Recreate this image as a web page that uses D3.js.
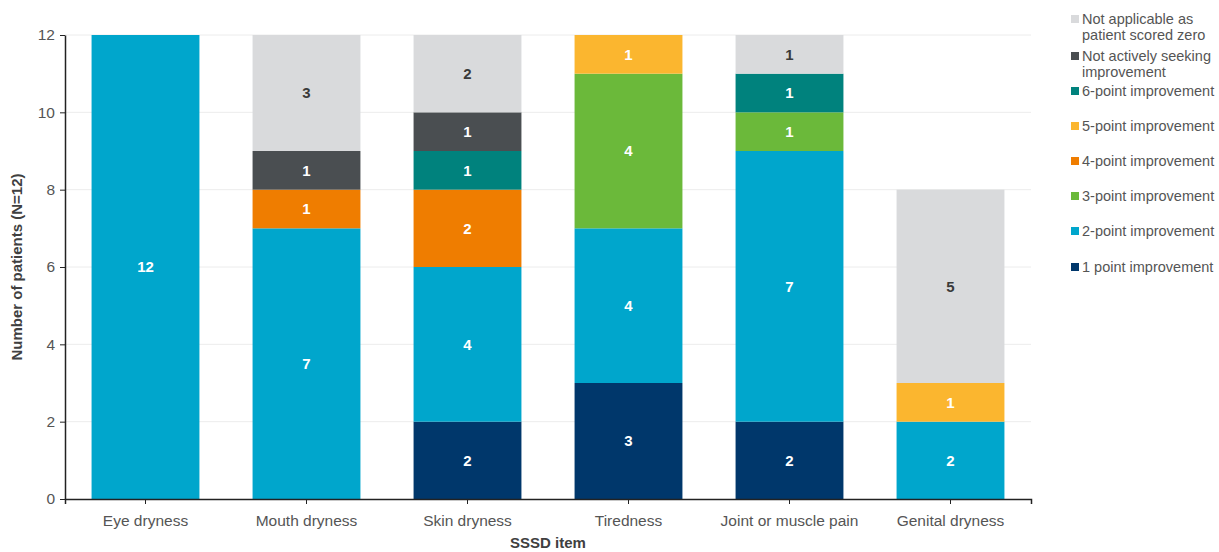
<!DOCTYPE html>
<html>
<head>
<meta charset="utf-8">
<script src="https://cdn.jsdelivr.net/npm/d3@7"></script>
<style>
	body { margin: 0; background: #fff; }
	text { font-family: "Liberation Sans", Arial, sans-serif; }
</style>
</head>
<body>
<div id="chart"></div>
<script>

///////////////////////////////////////////////////////////////////////

let categories = [ "Eye dryness", "Mouth dryness", "Skin dryness", "Tiredness", "Joint or muscle pain", "Genital dryness" ];

// stack order, bottom to top
let series_keys = [ "p1", "p2", "p3", "p4", "p5", "p6", "seek", "na" ];

let series_names = [
	"1 point improvement",
	"2-point improvement",
	"3-point improvement",
	"4-point improvement",
	"5-point improvement",
	"6-point improvement",
	"Not actively seeking improvement",
	"Not applicable as patient scored zero"
];

let series_colors = [ "#00376b", "#00a6cc", "#6bb93a", "#ef7d00", "#fbb62f", "#00827d", "#4a4e51", "#d9dadc" ];

let p1   = [ 0, 0, 2, 3, 2, 0 ];
let p2   = [ 12, 7, 4, 4, 7, 2 ];
let p3   = [ 0, 0, 0, 4, 1, 0 ];
let p4   = [ 0, 1, 2, 0, 0, 0 ];
let p5   = [ 0, 0, 0, 1, 0, 1 ];
let p6   = [ 0, 0, 1, 0, 1, 0 ];
let seek = [ 0, 1, 1, 0, 0, 0 ];
let na   = [ 0, 3, 2, 0, 1, 5 ];

let y_ticks = [ 0, 2, 4, 6, 8, 10, 12 ];

///////////////////////////////////////////////////////////////////////

let width = 1219, height = 552;
let margin = { left: 65, right: 188, top: 35, bottom: 53 };

let values = { p1, p2, p3, p4, p5, p6, seek, na };

let table = categories.map( ( c, i ) => {
	let row = { cat: c };
	series_keys.forEach( k => row[ k ] = values[ k ][ i ] );
	return row;
} );

let svg = d3.select( "#chart" )
	.append( "svg" )
		.attr( "width", width )
		.attr( "height", height );

let x = d3.scaleBand()
	.domain( categories )
	.range( [ margin.left, width - margin.right ] )
	.paddingInner( 0.33 )
	.paddingOuter( 0.165 );

let y = d3.scaleLinear()
	.domain( [ 0, 12 ] )
	.range( [ height - margin.bottom, margin.top ] );

// grid
svg.append( "g" )
	.selectAll( "line" )
	.data( y_ticks.slice( 1 ) )
	.join( "line" )
		.attr( "x1", margin.left )
		.attr( "x2", width - margin.right )
		.attr( "y1", d => y( d ) )
		.attr( "y2", d => y( d ) )
		.attr( "stroke", "#ececec" )
		.attr( "stroke-width", 1 );

let stack = d3.stack().keys( series_keys )( table );

let layers = svg.append( "g" )
	.selectAll( "g" )
	.data( stack )
	.join( "g" )
		.attr( "fill", ( d, i ) => series_colors[ i ] );

layers.selectAll( "rect" )
	.data( d => d.filter( s => s[ 1 ] > s[ 0 ] ) )
	.join( "rect" )
		.attr( "x", d => x( d.data.cat ) )
		.attr( "width", x.bandwidth() )
		.attr( "y", d => y( d[ 1 ] ) )
		.attr( "height", d => y( d[ 0 ] ) - y( d[ 1 ] ) );

layers.each( function( layer, li )	{

	d3.select( this ).selectAll( "text" )
		.data( layer.filter( s => s[ 1 ] > s[ 0 ] ) )
		.join( "text" )
			.attr( "x", d => x( d.data.cat ) + x.bandwidth() / 2 )
			.attr( "y", d => ( y( d[ 0 ] ) + y( d[ 1 ] ) ) / 2 )
			.attr( "dy", "0.35em" )
			.attr( "text-anchor", "middle" )
			.attr( "font-size", 15 )
			.attr( "font-weight", "bold" )
			.attr( "fill", li == 7 ? "#3a3a3a" : "#fff" )
			.text( d => d[ 1 ] - d[ 0 ] );
} );

// axes
let x_axis = svg.append( "g" )
	.attr( "transform", "translate(0," + y( 0 ) + ")" )
	.call( d3.axisBottom( x ).tickSize( 5 ).tickSizeOuter( 5 ) );

x_axis.select( ".domain" ).attr( "stroke", "#222" ).attr( "stroke-width", 1.5 );
x_axis.selectAll( ".tick line" ).attr( "stroke", "#222" );
x_axis.selectAll( "text" )
	.attr( "font-size", 15.5 )
	.attr( "fill", "#555" )
	.attr( "dy", "1.2em" )
	.style( "font-family", "'Liberation Sans', Arial, sans-serif" );

let y_axis = svg.append( "g" )
	.attr( "transform", "translate(" + margin.left + ",0)" )
	.call( d3.axisLeft( y ).tickValues( y_ticks ).tickSize( 5 ).tickSizeOuter( 0 ) );

y_axis.select( ".domain" ).attr( "stroke", "#222" ).attr( "stroke-width", 1.5 );
y_axis.selectAll( ".tick line" ).attr( "stroke", "#222" );
y_axis.selectAll( "text" )
	.attr( "font-size", 15.5 )
	.attr( "fill", "#555" )
	.attr( "x", -10 )
	.style( "font-family", "'Liberation Sans', Arial, sans-serif" );

// axis titles
svg.append( "text" )
	.attr( "x", ( margin.left + width - margin.right ) / 2 )
	.attr( "y", 548 )
	.attr( "text-anchor", "middle" )
	.attr( "font-size", 15 )
	.attr( "font-weight", "bold" )
	.attr( "fill", "#404040" )
	.text( "SSSD item" );

svg.append( "text" )
	.attr( "transform", "translate(22," + ( y( 6 ) ) + ") rotate(-90)" )
	.attr( "text-anchor", "middle" )
	.attr( "font-size", 15 )
	.attr( "font-weight", "bold" )
	.attr( "fill", "#404040" )
	.text( "Number of patients (N=12)" );

// legend, top entry first
let legend_rows = [
	{ i: 7, y: 19, lines: [ "Not applicable as", "patient scored zero" ] },
	{ i: 6, y: 56, lines: [ "Not actively seeking", "improvement" ] },
	{ i: 5, y: 91, lines: [ series_names[ 5 ] ] },
	{ i: 4, y: 126, lines: [ series_names[ 4 ] ] },
	{ i: 3, y: 161, lines: [ series_names[ 3 ] ] },
	{ i: 2, y: 196, lines: [ series_names[ 2 ] ] },
	{ i: 1, y: 231, lines: [ series_names[ 1 ] ] },
	{ i: 0, y: 267, lines: [ series_names[ 0 ] ] }
];

let legend = svg.append( "g" )
	.selectAll( "g" )
	.data( legend_rows )
	.join( "g" )
		.attr( "transform", d => "translate(1071," + d.y + ")" );

legend.append( "rect" )
	.attr( "x", 0 )
	.attr( "y", -4 )
	.attr( "width", 8 )
	.attr( "height", 8 )
	.attr( "fill", d => series_colors[ d.i ] );

legend.append( "text" )
	.attr( "x", 11 )
	.attr( "font-size", 14.5 )
	.attr( "fill", "#555" )
	.selectAll( "tspan" )
	.data( d => d.lines )
	.join( "tspan" )
		.attr( "x", 11 )
		.attr( "y", ( d, j ) => j * 16 )
		.attr( "dy", "0.35em" )
		.text( d => d );

</script>
</body>
</html>
